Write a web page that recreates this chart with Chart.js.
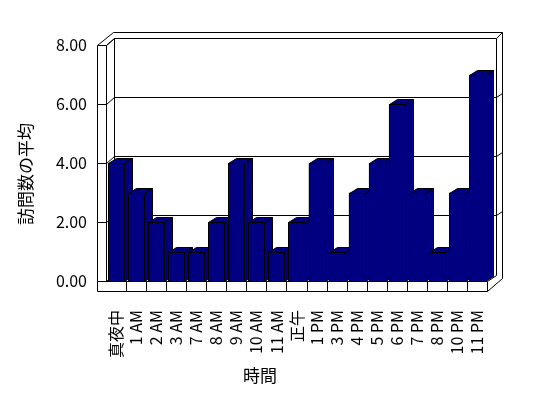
<!DOCTYPE html>
<html>
<head>
<meta charset="utf-8">
<script src="https://cdn.jsdelivr.net/npm/chart.js@4"></script>
<style>
html, body { margin: 0; padding: 0; background: #fff; }
</style>
</head>
<body>
<canvas id="chart" width="548" height="398"></canvas>
<script>
const hours = ['真夜中', '1 AM', '2 AM', '3 AM', '7 AM', '8 AM', '9 AM', '10 AM', '11 AM', '正午',
    '1 PM', '3 PM', '4 PM', '5 PM', '6 PM', '7 PM', '8 PM', '10 PM', '11 PM'];
const visits = [4, 3, 2, 1, 1, 2, 4, 2, 1, 2, 4, 1, 3, 4, 6, 3, 1, 3, 7];
const yTicks = [0, 2, 4, 6, 8];
const yTitle = '訪問数の平均';
const xTitle = '時間';

const NAVY = '#000080';
const FONT = '"Noto Sans CJK JP", "Noto Sans", sans-serif';

const px = v => Math.round(v) + 0.5;

function line(ctx, pts) {
    ctx.beginPath();
    ctx.moveTo(px(pts[0][0]), px(pts[0][1]));
    pts.slice(1).forEach(p => ctx.lineTo(px(p[0]), px(p[1])));
    ctx.stroke();
}

function poly(ctx, pts) {
    ctx.beginPath();
    ctx.moveTo(px(pts[0][0]), px(pts[0][1]));
    pts.slice(1).forEach(p => ctx.lineTo(px(p[0]), px(p[1])));
    ctx.closePath();
    ctx.fill();
    ctx.stroke();
}

// walls, floor and gridlines of the 3d box, then side/top faces of each bar
const box3d = {
    id: 'box3d',
    beforeDatasetsDraw(chart) {
        const { ctx, chartArea: a, scales: { x, y } } = chart;
        const L = a.left, R = a.right, T = a.top, B = a.bottom;
        ctx.save();
        ctx.strokeStyle = '#000';
        ctx.lineWidth = 1;

        // back wall
        line(ctx, [[L + 8, B - 6], [L + 8, T - 7], [R + 9, T - 7], [R + 9, B - 6]]);
        line(ctx, [[L - 9, T], [L + 7, T - 13], [R + 15, T - 13], [R + 15, B - 3]]);
        line(ctx, [[L, T], [L + 8, T - 7]]);
        line(ctx, [[R + 9, T - 7], [R + 15, T - 13]]);

        // gridlines
        yTicks.forEach(v => {
            const yy = y.getPixelForValue(v);
            line(ctx, [[L - 9, yy], [L, yy], [L + 8, yy - 7]]);
            if (v > 0 && v < 8) {
                line(ctx, [[L + 8, yy - 7], [R + 9, yy - 7], [R + 15, yy - 11]]);
            }
        });

        // left wall + floor front
        line(ctx, [[L, T], [L, B]]);
        ctx.fillStyle = '#fff';
        ctx.fillRect(L - 9, B, R - L + 9, 10);
        line(ctx, [[L - 9, T], [L - 9, B + 10], [R, B + 10], [R, B], [L - 9, B]]);
        line(ctx, [[R, B + 10], [R + 15, B - 3]]);
        line(ctx, [[R, B], [R + 9, B - 6]]);
        for (let i = 1; i < hours.length; i++) {
            const xx = x.getPixelForValue(i - 0.5);
            line(ctx, [[xx, B], [xx, B + 10]]);
        }
        ctx.restore();
    },
    afterDatasetsDraw(chart) {
        const { ctx } = chart;
        const meta = chart.getDatasetMeta(0);
        const dx = 8, dy = -5;
        ctx.save();
        ctx.fillStyle = NAVY;
        ctx.strokeStyle = '#000';
        ctx.lineWidth = 1;
        meta.data.forEach(bar => {
            const { x, y, base, width } = bar.getProps(['x', 'y', 'base', 'width'], true);
            const l = x - width / 2, r = x + width / 2;
            poly(ctx, [[r, y], [r + dx, y + dy], [r + dx, base + dy], [r, base]]);
            poly(ctx, [[l, y], [l + dx, y + dy], [r + dx, y + dy], [r, y]]);
            poly(ctx, [[l, y], [r, y], [r, base], [l, base]]);
        });
        ctx.restore();
    },
    afterDraw(chart) {
        const { ctx } = chart;
        ctx.save();
        ctx.fillStyle = '#000';
        ctx.font = '17px ' + FONT;
        ctx.textAlign = 'center';
        ctx.textBaseline = 'middle';
        ctx.fillText(xTitle, 260, 376);
        ctx.translate(26, 174);
        ctx.rotate(-Math.PI / 2);
        ctx.fillText(yTitle, 0, 0);
        ctx.restore();
    }
};

new Chart(document.getElementById('chart'), {
    type: 'bar',
    data: {
        labels: hours,
        datasets: [{
            data: visits,
            backgroundColor: NAVY,
            borderColor: '#000',
            borderWidth: 1,
            borderSkipped: false,
            categoryPercentage: 1,
            barPercentage: 0.8
        }]
    },
    options: {
        responsive: false,
        animation: false,
        layout: { padding: { top: 45, right: 61, left: 0, bottom: 0 } },
        plugins: { legend: { display: false }, tooltip: { enabled: false } },
        scales: {
            x: {
                grid: { display: false, drawTicks: false },
                border: { display: false },
                ticks: {
                    autoSkip: false, minRotation: 90, maxRotation: 90, padding: 29,
                    color: '#000', font: { family: FONT, size: 16 }
                },
                afterFit: s => { s.height = 117; }
            },
            y: {
                min: 0, max: 8,
                grid: { display: false, drawTicks: false },
                border: { display: false },
                ticks: {
                    stepSize: 2, padding: 19, color: '#000',
                    font: { family: FONT, size: 16 },
                    callback: v => v.toFixed(2)
                },
                afterFit: s => { s.width = 106; }
            }
        }
    },
    plugins: [box3d]
});
</script>
</body>
</html>
